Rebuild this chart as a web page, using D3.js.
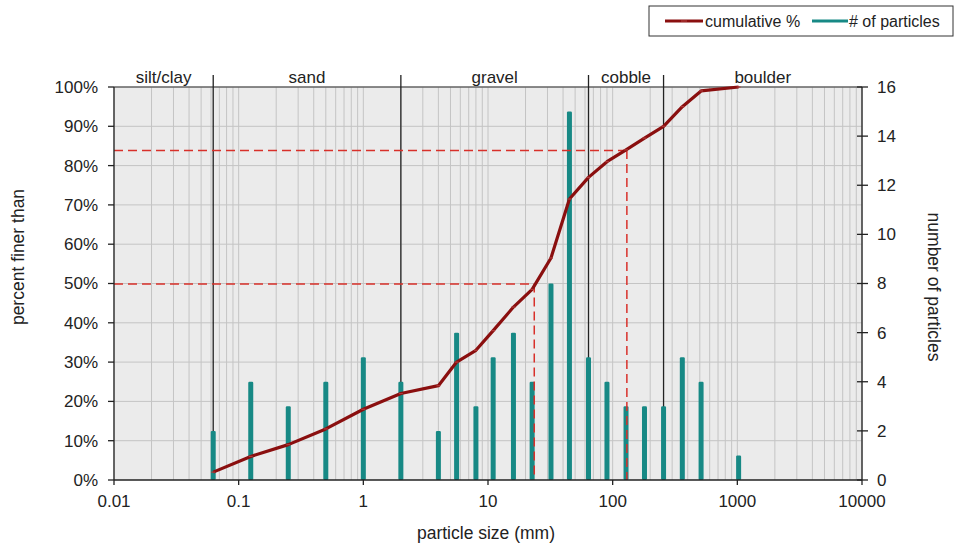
<!DOCTYPE html>
<html><head><meta charset="utf-8">
<script src="https://cdn.jsdelivr.net/npm/d3@7"></script>
<style>
body{margin:0;background:#fff;}
svg{font-family:"Liberation Sans",Arial,sans-serif;}
</style></head>
<body>
<svg id="c" width="955" height="544"></svg>
<script>
// ---- data ----
const sizes = [0.0625,0.125,0.25,0.5,1,2,4,5.6,8,11,16,22.6,32,45,64,90,128,180,256,362,512,1024];
const counts = [2,4,3,4,5,4,2,6,3,5,6,4,8,15,5,4,3,3,3,5,4,1];
const cumulative = [2,6,9,13,18,22,24,30,33,38,44,48.5,56.5,71.5,77,81,84,87,90,95,99,100];
const classBounds = [0.01,0.0625,2,64,256,10000];
const classNames = ["silt/clay","sand","gravel","cobble","boulder"];
const xTicks = [0.01,0.1,1,10,100,1000,10000];
const xTickLabels = ["0.01","0.1","1","10","100","1000","10000"];
const yLeftTicks = [0,10,20,30,40,50,60,70,80,90,100];
const yRightTicks = [0,2,4,6,8,10,12,14,16];
const d50 = 23.5, d84 = 130;

const svg = d3.select("#c");
const L=114,R=862,T=87,B=480;
const x = d3.scaleLog().domain([0.01,10000]).range([L,R]);
const yL = d3.scaleLinear().domain([0,100]).range([B,T]);
const yR = d3.scaleLinear().domain([0,16]).range([B,T]);

// background
svg.append("rect").attr("x",L).attr("y",T).attr("width",R-L).attr("height",B-T).attr("fill","#ebebeb");

// minor vertical gridlines
const vgrid=[];
for(let e=-2;e<=3;e++){for(let k=1;k<=9;k++){vgrid.push(k*Math.pow(10,e));}}
vgrid.push(10000);
svg.append("g").selectAll("line").data(vgrid).join("line")
  .attr("x1",d=>x(d)).attr("x2",d=>x(d)).attr("y1",T).attr("y2",B)
  .attr("stroke","#c4c4c4").attr("stroke-width",1);
// horizontal gridlines
svg.append("g").selectAll("line").data(yLeftTicks.slice(1)).join("line")
  .attr("x1",L).attr("x2",R).attr("y1",d=>yL(d)).attr("y2",d=>yL(d))
  .attr("stroke","#c4c4c4").attr("stroke-width",1);

// top border
svg.append("line").attr("x1",L).attr("x2",R).attr("y1",T).attr("y2",T).attr("stroke","#333").attr("stroke-width",1.2);

// class boundaries
svg.append("g").selectAll("line").data(classBounds.slice(1,-1)).join("line")
  .attr("x1",d=>x(d)).attr("x2",d=>x(d)).attr("y1",75).attr("y2",B)
  .attr("stroke","#222").attr("stroke-width",1.3);
svg.append("g").selectAll("text").data(classNames).join("text")
  .attr("x",(d,i)=>(x(classBounds[i])+x(classBounds[i+1]))/2).attr("y",83)
  .attr("text-anchor","middle").attr("font-size",17).attr("fill","#222").text(d=>d);

// bars
svg.append("g").selectAll("rect").data(sizes).join("rect")
  .attr("x",d=>x(d)-2.5).attr("width",5)
  .attr("y",(d,i)=>yR(counts[i])).attr("height",(d,i)=>yR(0)-yR(counts[i]))
  .attr("fill","#178985").attr("rx",1.2);

// dashed d50/d84
const dg=svg.append("g").attr("stroke","#d8302a").attr("stroke-width",1.5).attr("stroke-dasharray","9,5").attr("fill","none");
[[d50,50],[d84,84]].forEach(([s,p])=>{
  dg.append("line").attr("x1",L).attr("x2",x(s)).attr("y1",yL(p)+0.5).attr("y2",yL(p)+0.5);
  dg.append("line").attr("x1",x(s)).attr("x2",x(s)).attr("y1",yL(p)).attr("y2",B);
});

// cumulative line
const line=d3.line().x((d,i)=>x(sizes[i])).y(d=>yL(d));
svg.append("path").datum(cumulative).attr("d",line).attr("fill","none")
  .attr("stroke","#8a0f0f").attr("stroke-width",3.2).attr("stroke-linejoin","round");
svg.append("g").selectAll("line").data(cumulative).join("line")
  .attr("x1",(d,i)=>x(sizes[i])-2).attr("x2",(d,i)=>x(sizes[i])+2)
  .attr("y1",d=>yL(d)).attr("y2",d=>yL(d))
  .attr("stroke","#b03a3a").attr("stroke-width",1.2);

// axes
const ax=svg.append("g").attr("stroke","#222").attr("stroke-width",1.3);
ax.append("line").attr("x1",L).attr("x2",L).attr("y1",T).attr("y2",B);
ax.append("line").attr("x1",L).attr("x2",R).attr("y1",B).attr("y2",B);
ax.append("line").attr("x1",R).attr("x2",R).attr("y1",T).attr("y2",B);
ax.selectAll(".lt").data(yLeftTicks).join("line").attr("class","lt")
  .attr("x1",L-6).attr("x2",L).attr("y1",d=>yL(d)).attr("y2",d=>yL(d));
ax.selectAll(".rt").data(yRightTicks).join("line").attr("class","rt")
  .attr("x1",R-5).attr("x2",R+6).attr("y1",d=>yR(d)).attr("y2",d=>yR(d));
ax.selectAll(".bt").data(xTicks).join("line").attr("class","bt")
  .attr("x1",d=>x(d)).attr("x2",d=>x(d)).attr("y1",B).attr("y2",B+5);

const tf={size:17,fill:"#222"};
svg.append("g").selectAll("text").data(yLeftTicks).join("text")
  .attr("x",98).attr("y",d=>yL(d)).attr("dy","0.35em").attr("text-anchor","end")
  .attr("font-size",tf.size).attr("fill",tf.fill).text(d=>d+"%");
svg.append("g").selectAll("text").data(yRightTicks).join("text")
  .attr("x",877).attr("y",d=>yR(d)).attr("dy","0.35em").attr("text-anchor","start")
  .attr("font-size",tf.size).attr("fill",tf.fill).text(d=>d);
svg.append("g").selectAll("text").data(xTicks).join("text")
  .attr("x",d=>x(d)).attr("y",507).attr("text-anchor","middle")
  .attr("font-size",tf.size).attr("fill",tf.fill).text((d,i)=>xTickLabels[i]);

// titles
svg.append("text").attr("x",486).attr("y",539).attr("text-anchor","middle")
  .attr("font-size",17.5).attr("fill","#222").text("particle size (mm)");
svg.append("text").attr("transform","translate(24,257) rotate(-90)").attr("text-anchor","middle")
  .attr("font-size",17.5).attr("fill","#222").text("percent finer than");
svg.append("text").attr("transform","translate(928,287) rotate(90)").attr("text-anchor","middle")
  .attr("font-size",17.5).attr("fill","#222").text("number of particles");

// legend
const lg=svg.append("g");
lg.append("rect").attr("x",649).attr("y",6).attr("width",304).attr("height",30)
  .attr("fill","#fff").attr("stroke","#333").attr("stroke-width",1);
lg.append("line").attr("x1",665).attr("x2",703).attr("y1",21).attr("y2",21).attr("stroke","#8a0f0f").attr("stroke-width",3);
lg.append("line").attr("x1",681).attr("x2",687).attr("y1",21).attr("y2",21).attr("stroke","#b03a3a").attr("stroke-width",1.2);
lg.append("text").attr("x",705).attr("y",27).attr("font-size",16).attr("fill","#222").text("cumulative %");
lg.append("line").attr("x1",812).attr("x2",848).attr("y1",21).attr("y2",21).attr("stroke","#178985").attr("stroke-width",3);
lg.append("text").attr("x",849).attr("y",27).attr("font-size",16).attr("fill","#222").text("# of particles");
</script>
</body></html>
